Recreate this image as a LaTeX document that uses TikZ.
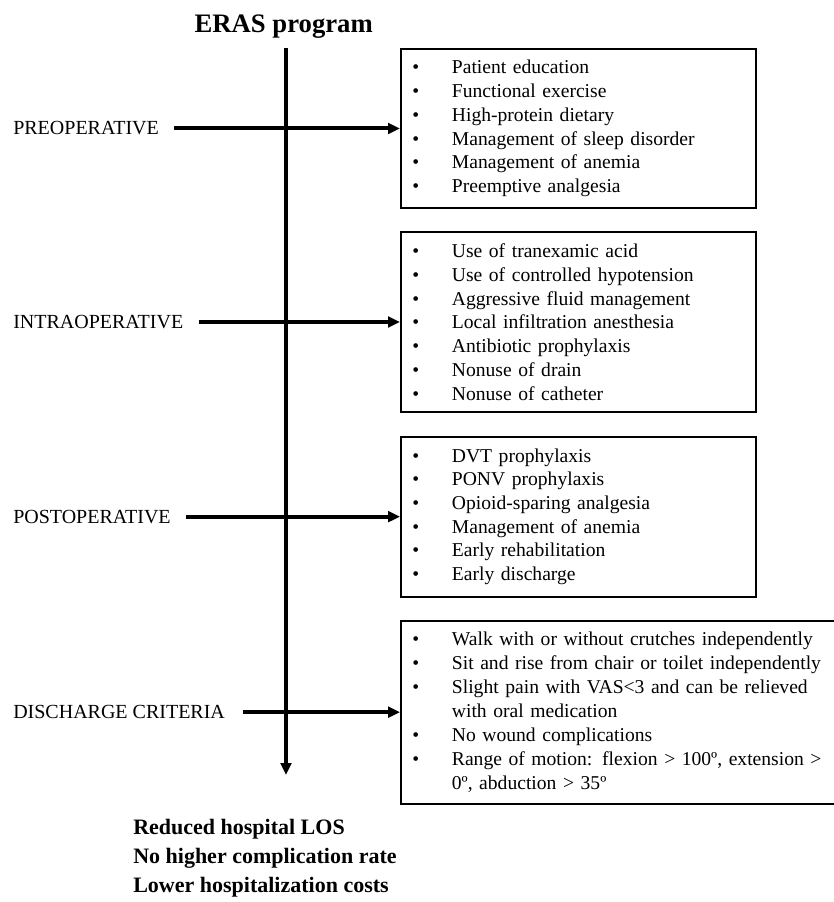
\documentclass[tikz,border=0pt]{standalone}
\usepackage{fontspec}
\setmainfont{Liberation Serif}
\usetikzlibrary{arrows.meta, positioning}
\newcommand{\itm}[1]{\makebox[29.6pt][l]{\textbullet}#1}
\newcommand{\cnt}[1]{\hspace*{29.6pt}#1}

\begin{document}
\begin{tikzpicture}[
    x=0.75pt, y=-0.75pt,
    node distance=16.5pt,
    box/.style={draw, line width=1.5pt, inner xsep=8.6pt, inner ysep=0pt, text width=249pt, align=left, font=\fontsize{14.7}{17.8}\selectfont},
    phase/.style={inner sep=0pt, anchor=west, font=\fontsize{15}{18}\selectfont},
    result/.style={inner sep=0pt, anchor=base west, font=\fontsize{16.5}{20}\selectfont\bfseries},
    arrow/.style={-{Triangle[length=9pt, width=8pt]}, line width=3pt}
]
    \useasboundingbox (0,0) rectangle (834,902);
    \node[box, anchor=north west, minimum height=119.25pt] (pre) at (400,48) {\itm{Patient education}\\\itm{Functional exercise}\\\itm{High-protein dietary}\\\itm{Management of sleep disorder}\\\itm{Management of anemia}\\\itm{Preemptive analgesia}};
    \node[box, below=16.5pt of pre.south west, anchor=north west, minimum height=135pt] (intra) {\itm{Use of tranexamic acid}\\\itm{Use of controlled hypotension}\\\itm{Aggressive fluid management}\\\itm{Local infiltration anesthesia}\\\itm{Antibiotic prophylaxis}\\\itm{Nonuse of drain}\\\itm{Nonuse of catheter}};
    \node[box, below=17pt of intra.south west, anchor=north west, minimum height=120pt] (post) {\itm{DVT prophylaxis}\\\itm{PONV prophylaxis}\\\itm{Opioid-sparing analgesia}\\\itm{Management of anemia}\\\itm{Early rehabilitation}\\\itm{Early discharge}};
    \node[box, below=16.5pt of post.south west, anchor=north west, minimum height=137.25pt, text width=312.8pt, font=\fontsize{14.7}{18.1}\selectfont] (dis) {\itm{Walk with or without crutches independently}\\\itm{Sit and rise from chair or toilet independently}\\\itm{Slight pain with VAS<3 and can be relieved}\\\cnt{with oral medication}\\\itm{No wound complications}\\\itm{Range of motion: flexion > 100º, extension >}\\\cnt{0º, abduction > 35º}};

    \node[inner sep=0pt, anchor=base east, font=\fontsize{20}{22}\selectfont\bfseries] (title) at (373,33) {ERAS program};
    \coordinate (top) at (286,0 |- pre.north);
    \coordinate (bot) at (286,775);
    \draw[arrow] (top) -- (bot);

    \node[phase] (prel) at (13,0 |- pre.west) {PREOPERATIVE};
    \node[phase] (intral) at (13,0 |- intra.west) {INTRAOPERATIVE};
    \node[phase] (postl) at (13,0 |- post.west) {POSTOPERATIVE};
    \node[phase] (disl) at (13,0 |- dis.west) {DISCHARGE CRITERIA};
    \draw[arrow, shorten <=11.5pt] (prel.east) -- (prel.east -| pre.west);
    \draw[arrow, shorten <=11.5pt] (intral.east) -- (intral.east -| intra.west);
    \draw[arrow, shorten <=11.5pt] (postl.east) -- (postl.east -| post.west);
    \draw[arrow, shorten <=13.5pt] (disl.east) -- (disl.east -| dis.west);

    \node[result] (r1) at (133,834) {Reduced hospital LOS};
    \node[result] (r2) at ([yshift=-21.75pt]r1.base west) {No higher complication rate};
    \node[result] (r3) at ([yshift=-21.75pt]r2.base west) {Lower hospitalization costs};
\end{tikzpicture}
\end{document}
